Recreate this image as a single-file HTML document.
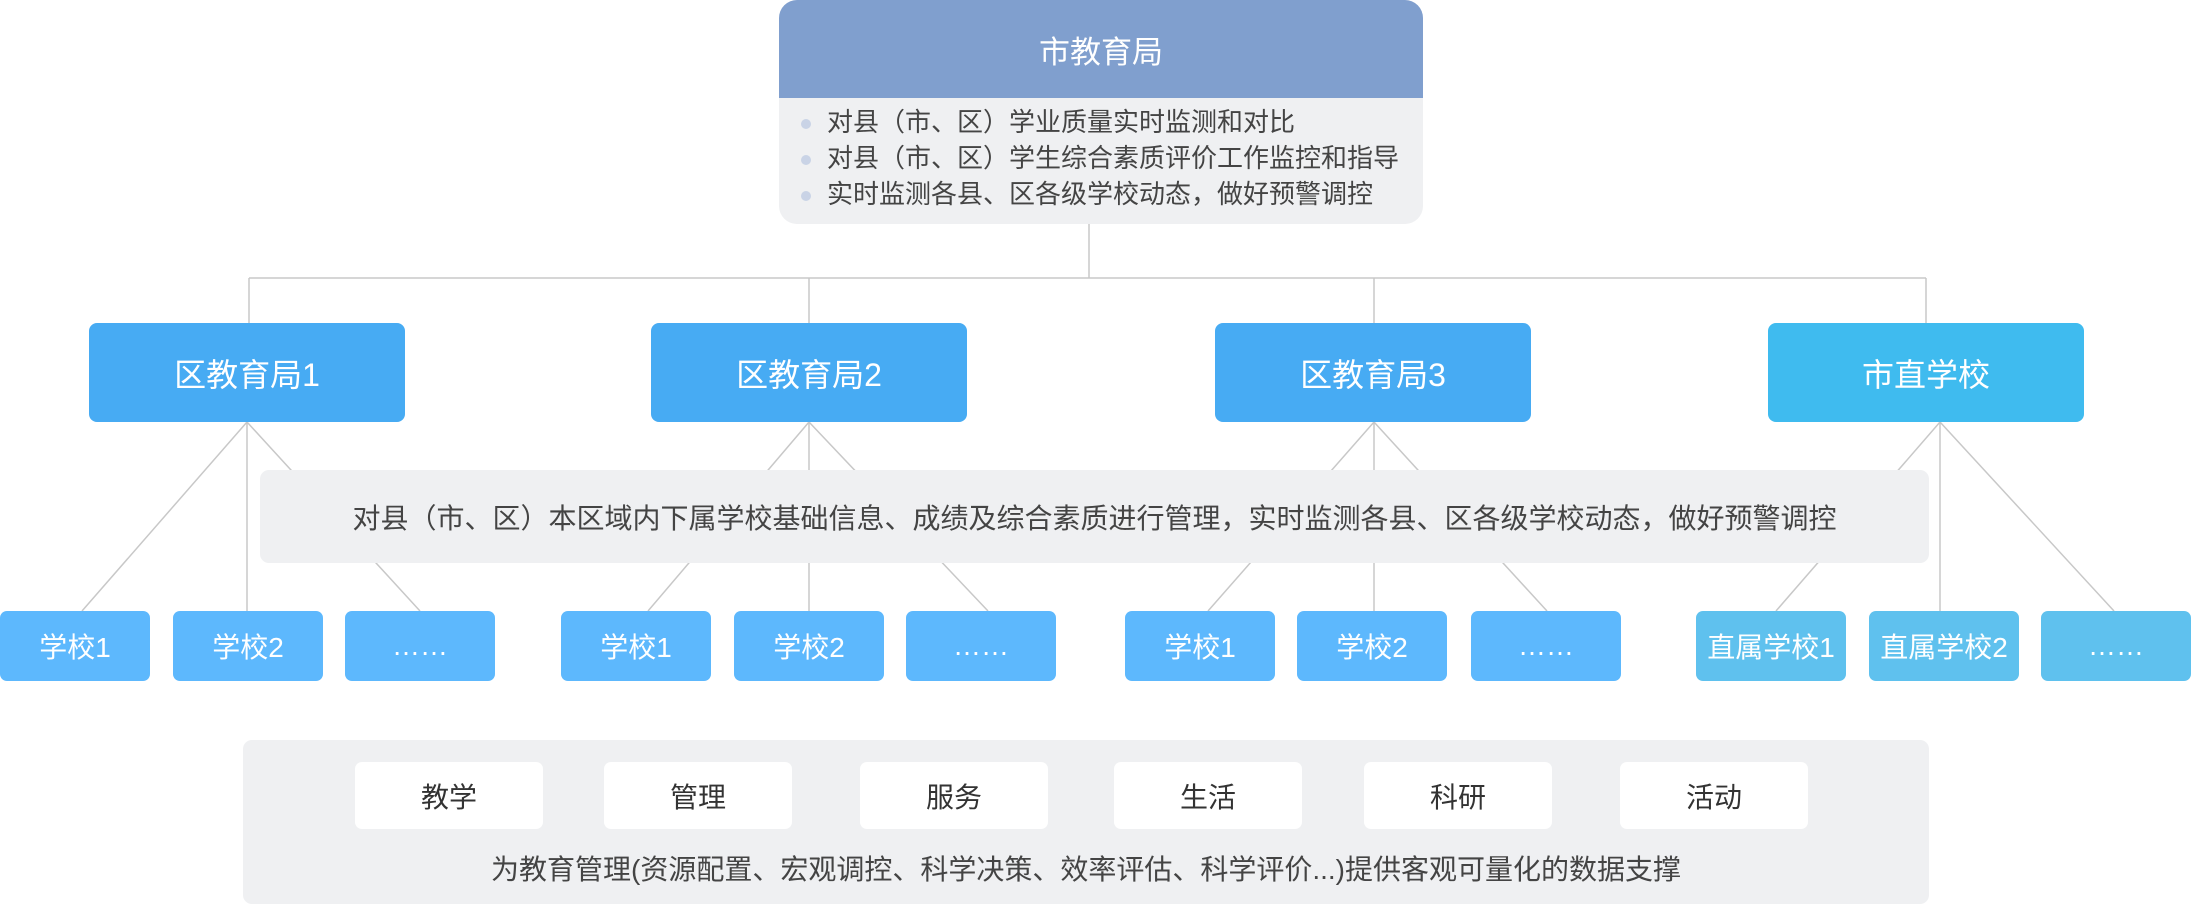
<!DOCTYPE html>
<html><head><meta charset="utf-8"><style>
*{margin:0;padding:0;box-sizing:border-box}
body{width:2192px;height:904px;background:#fff;position:relative;overflow:hidden;font-family:"Liberation Sans","Noto Sans CJK SC",sans-serif}
.a{position:absolute;display:flex;align-items:center;justify-content:center;color:#fff}
.l2{top:323px;height:99px;width:316px;border-radius:8px;background:#47abf3;font-size:32px}
.s{top:611px;height:70px;width:150px;border-radius:7px;background:#5db8fd;font-size:28px}
.d{background:#5fc1ee}
.btn{top:762px;height:67px;width:188px;border-radius:7px;background:#fff;color:#333;font-size:28px}
</style></head><body>
<svg width="2192" height="904" style="position:absolute;left:0;top:0" stroke="#c8c8c8" stroke-width="1.5" fill="none">
<path d="M1089 224V278M249 278H1926M249 278V323M809 278V323M1374 278V323M1926 278V323"/>
<path d="M247 422L82 611M247 422V611M247 422L420 611"/>
<path d="M809 422L648 611M809 422V611M809 422L988 611"/>
<path d="M1374 422L1208 611M1374 422V611M1374 422L1547 611"/>
<path d="M1940 422L1776 611M1940 422V611M1940 422L2114 611"/>
</svg>
<div style="position:absolute;left:779px;top:0;width:644px;height:224px;border-radius:18px;background:#eff0f2;overflow:hidden">
<div style="height:98px;background:#809fce;color:#fff;font-size:31px;display:flex;align-items:center;justify-content:center">市教育局</div>
<div style="position:absolute;left:22px;top:104px;font-size:26px;line-height:36px;color:#444">
<div><span style="display:inline-block;width:10px;height:10px;border-radius:5px;background:#c9d3e6;margin-right:16px;vertical-align:middle"></span>对县（市、区）学业质量实时监测和对比</div>
<div><span style="display:inline-block;width:10px;height:10px;border-radius:5px;background:#c9d3e6;margin-right:16px;vertical-align:middle"></span>对县（市、区）学生综合素质评价工作监控和指导</div>
<div><span style="display:inline-block;width:10px;height:10px;border-radius:5px;background:#c9d3e6;margin-right:16px;vertical-align:middle"></span>实时监测各县、区各级学校动态，做好预警调控</div>
</div></div>
<div class="a l2" style="left:89px">区教育局1</div>
<div class="a l2" style="left:651px">区教育局2</div>
<div class="a l2" style="left:1215px">区教育局3</div>
<div class="a l2" style="left:1768px;background:#3fbbef">市直学校</div>
<div class="a" style="left:260px;top:470px;width:1669px;height:93px;border-radius:9px;background:#eff0f2;color:#444;font-size:28px">对县（市、区）本区域内下属学校基础信息、成绩及综合素质进行管理，实时监测各县、区各级学校动态，做好预警调控</div>
<div class="a s" style="left:0">学校1</div><div class="a s" style="left:173px">学校2</div><div class="a s" style="left:345px">……</div>
<div class="a s" style="left:561px">学校1</div><div class="a s" style="left:734px">学校2</div><div class="a s" style="left:906px">……</div>
<div class="a s" style="left:1125px">学校1</div><div class="a s" style="left:1297px">学校2</div><div class="a s" style="left:1471px">……</div>
<div class="a s d" style="left:1696px">直属学校1</div><div class="a s d" style="left:1869px">直属学校2</div><div class="a s d" style="left:2041px">……</div>
<div style="position:absolute;left:243px;top:740px;width:1686px;height:164px;border-radius:9px;background:#eff0f2"></div>
<div class="a btn" style="left:355px">教学</div>
<div class="a btn" style="left:604px">管理</div>
<div class="a btn" style="left:860px">服务</div>
<div class="a btn" style="left:1114px">生活</div>
<div class="a btn" style="left:1364px">科研</div>
<div class="a btn" style="left:1620px">活动</div>
<div class="a" style="left:243px;top:848px;width:1686px;height:40px;color:#444;font-size:28px">为教育管理(资源配置、宏观调控、科学决策、效率评估、科学评价...)提供客观可量化的数据支撑</div>
</body></html>
